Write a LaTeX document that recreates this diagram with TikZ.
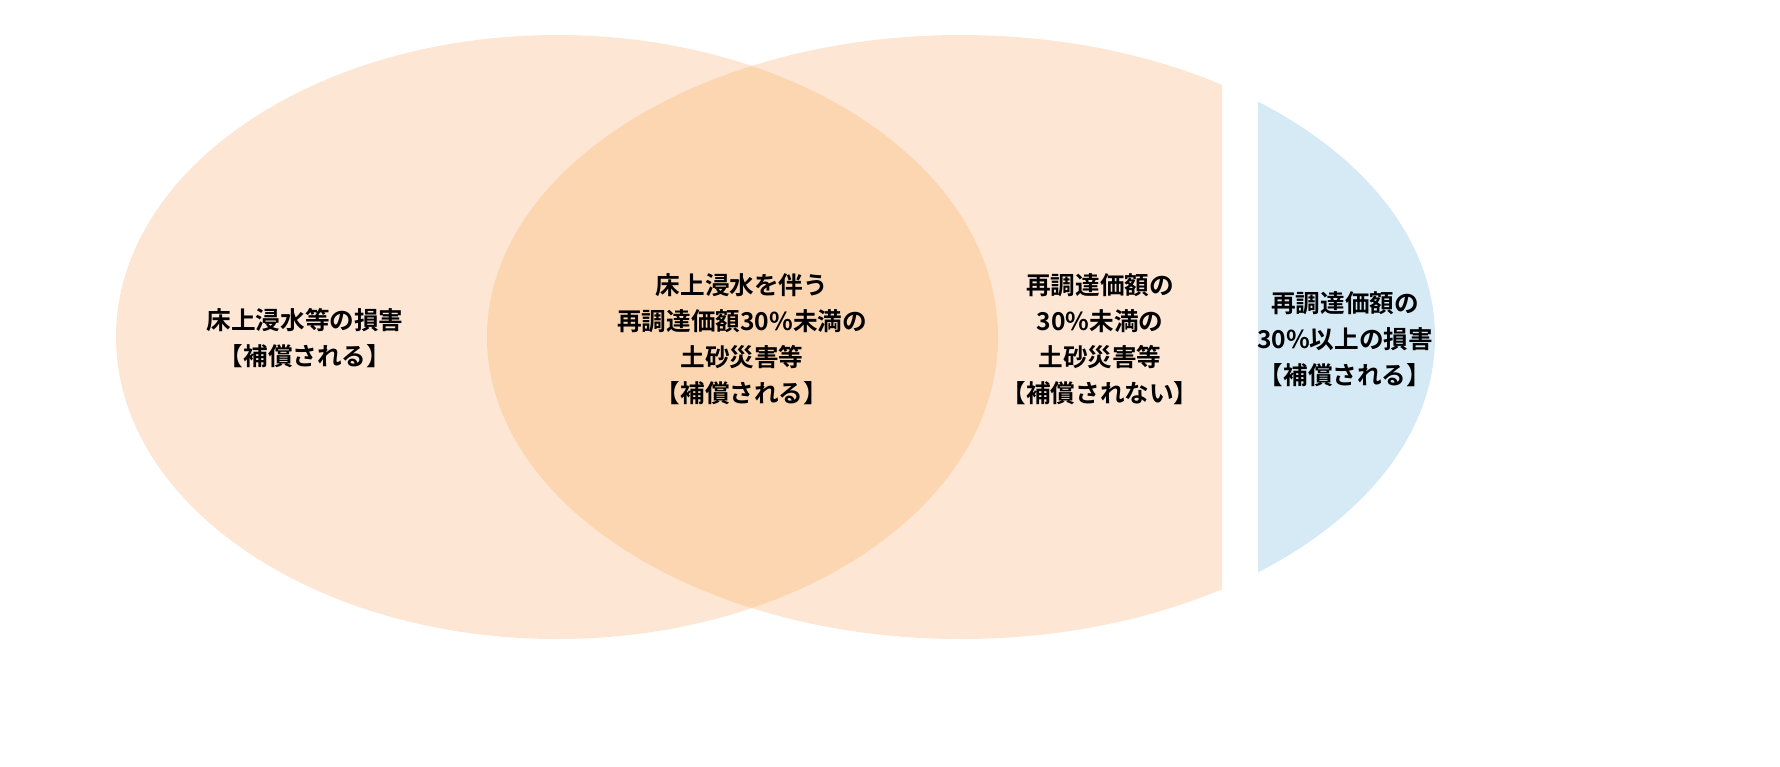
\documentclass[tikz,border=0pt]{standalone}
\usepackage{fontspec}
\newfontfamily\jpfont{Noto Sans CJK JP}[BoldFont={Noto Sans CJK JP Bold}]
\usepackage{tikz}
\definecolor{paleorange}{HTML}{FDE6D4}
\definecolor{midorange}{HTML}{FCD6B1}
\definecolor{paleblue}{HTML}{D6EAF6}
\tikzset{
    setlabel/.style={align=center,font=\jpfont\bfseries\fontsize{7}{10.3}\selectfont}
}
\begin{document}
\begin{tikzpicture}[x=0.01cm,y=-0.01cm]
    \useasboundingbox (0,0) rectangle (1780,766);
    % Draw the two sets
    \fill [paleorange] (557,337) ellipse [x radius=441,y radius=302];
    \begin{scope}
        \clip (0,0) rectangle (1222,766);
        \fill [paleorange] (961,337) ellipse [x radius=474,y radius=302];
    \end{scope}
    \begin{scope}
        \clip (1258,0) rectangle (1780,766);
        \fill [paleblue] (961,337) ellipse [x radius=474,y radius=302];
    \end{scope}
    % Draw the overlap
    \begin{scope}
        \clip (557,337) ellipse [x radius=441,y radius=302];
        \fill [midorange] (961,337) ellipse [x radius=474,y radius=302];
    \end{scope}

    \node [setlabel] (left) at (305,338) {床上浸水等の損害\\【補償される】};
    \node [setlabel] (mid) at (742,339) {床上浸水を伴う\\再調達価額30\%未満の\\土砂災害等\\【補償される】};
    \node [setlabel] (right) at (1100,339) {再調達価額の\\30\%未満の\\土砂災害等\\【補償されない】};
    \node [setlabel] (blue) at (1345,339) {再調達価額の\\30\%以上の損害\\【補償される】};
\end{tikzpicture}
\end{document}
